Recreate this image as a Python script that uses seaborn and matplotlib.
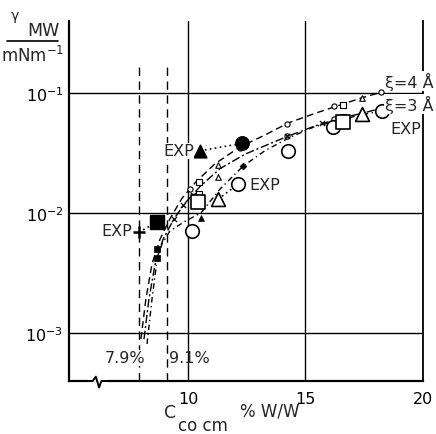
import matplotlib
matplotlib.use("Agg")
import matplotlib.pyplot as plt
import matplotlib.transforms as mtransforms
import seaborn as sns
import pandas as pd

# ---- curves (C %W/W, gamma mN/m) ----
xi4_x = [8.0, 8.21, 8.47, 8.81, 9.23, 9.74, 10.34, 11.15, 12.21, 13.28, 14.26, 15.40, 16.47, 17.40, 18.26]
xi4_y = [0.00089, 0.00191, 0.00376, 0.00603, 0.00891, 0.0132, 0.0182, 0.0257, 0.0355, 0.0447, 0.0562, 0.0676, 0.0794, 0.0912, 0.102]

xi3_x = [8.13, 8.34, 8.60, 8.94, 9.40, 9.91, 10.51, 11.36, 12.43, 13.40, 14.26, 15.40, 16.47, 17.40, 18.17]
xi3_y = [0.00089, 0.00191, 0.00372, 0.00603, 0.00891, 0.0123, 0.0166, 0.0234, 0.0309, 0.0372, 0.0437, 0.0531, 0.0617, 0.0676, 0.0741]

exp_x = [8.26, 8.47, 8.68, 8.89, 9.23, 9.87, 10.55, 11.36, 12.34, 13.28, 14.34, 15.40, 16.47, 17.40, 18.26]
exp_y = [0.00081, 0.00191, 0.00398, 0.00550, 0.00708, 0.00851, 0.0100, 0.0158, 0.0245, 0.0331, 0.0427, 0.0525, 0.0596, 0.0661, 0.0708]

# ---- small theory markers ----
sm_circ_x = [10.1, 12.2, 14.2, 16.2, 18.2, 14.2, 16.2, 18.2]
sm_circ_y = [0.0158, 0.0347, 0.055, 0.0776, 0.102, 0.0437, 0.0603, 0.0741]
sm_x_x = [9.4, 9.8, 10.2, 14.2, 15.7]
sm_x_y = [0.0089, 0.0117, 0.0141, 0.0437, 0.056]
sm_sq_x = [10.45, 16.6, 10.45, 16.6]
sm_sq_y = [0.0182, 0.0794, 0.0145, 0.063]
sm_tri_x = [11.3, 17.4, 11.3, 17.4]
sm_tri_y = [0.0251, 0.0912, 0.02, 0.0708]
sm_fsq_x = [8.7, 8.68]
sm_fsq_y = [0.0050, 0.0042]
sm_ftri_x = [10.55]
sm_ftri_y = [0.0091]
sm_fcirc_x = [12.34]
sm_fcirc_y = [0.0245]

# ---- experimental markers ----
ocirc_x = [10.17, 14.26, 16.17, 18.26]
ocirc_y = [0.0071, 0.033, 0.052, 0.071]
ocirc2_x = [11.28, 12.13]          # triangle ... O EXP pair
ocirc2_y = [0.013, 0.0174]
osq_x = [10.43, 16.6]
osq_y = [0.0124, 0.057]
otri_x = [11.28, 17.4]
otri_y = [0.013, 0.067]
fill_pair_x = [7.91, 8.68]         # EXP + ... filled square
fill_pair_y = [0.0069, 0.0084]
ftri_pair_x = [10.51, 12.3]        # EXP filled triangle ... filled circle
ftri_pair_y = [0.033, 0.038]

cmc_x = [7.9, 9.1]
cmc_labels = ["7.9%", "9.1%"]

sns.set_style("white")
plt.rcParams["font.family"] = ["DejaVu Sans"]
plt.rcParams["mathtext.fontset"] = "dejavusans"

fig = plt.figure(figsize=(4.36, 4.35), dpi=100)
ax = fig.add_axes([69 / 436, 53 / 435, 354 / 436, 360 / 435])
ax.set_yscale("log")

# curves
sns.lineplot(x=xi4_x, y=xi4_y, ax=ax, color="black", lw=1.0, sort=False, estimator=None, dashes=False, linestyle=(0, (5, 3)))
sns.lineplot(x=xi3_x, y=xi3_y, ax=ax, color="black", lw=1.0, sort=False, estimator=None, linestyle=(0, (6, 2, 1.5, 2)))
sns.lineplot(x=exp_x, y=exp_y, ax=ax, color="black", lw=1.0, sort=False, estimator=None, linestyle=(0, (4, 2.5, 1, 2.5)))

# dotted connectors
for xs, ys in [(fill_pair_x, fill_pair_y), (ftri_pair_x, ftri_pair_y), (ocirc2_x, ocirc2_y)]:
    sns.lineplot(x=xs, y=ys, ax=ax, color="black", lw=1.2, sort=False, estimator=None, linestyle=(0, (1, 2)))

# cmc dashed verticals
ax.vlines(cmc_x, 10 ** -3.4, 0.165, colors="black", lw=1.0, linestyles=(0, (6, 4)), zorder=2)

# small markers
kw_o = dict(ax=ax, color="white", edgecolor="black", linewidth=0.8, zorder=4)
sns.scatterplot(x=sm_circ_x, y=sm_circ_y, marker="o", s=14, **kw_o)
sns.scatterplot(x=sm_sq_x, y=sm_sq_y, marker="s", s=14, **kw_o)
sns.scatterplot(x=sm_tri_x, y=sm_tri_y, marker="^", s=16, **kw_o)
sns.scatterplot(x=sm_x_x, y=sm_x_y, marker="x", s=14, color="black", linewidth=0.9, ax=ax, zorder=4)
kw_f = dict(ax=ax, color="black", edgecolor="black", linewidth=0.5, zorder=4)
sns.scatterplot(x=sm_fsq_x, y=sm_fsq_y, marker="s", s=14, **kw_f)
sns.scatterplot(x=sm_ftri_x, y=sm_ftri_y, marker="^", s=18, **kw_f)
sns.scatterplot(x=sm_fcirc_x, y=sm_fcirc_y, marker="D", s=12, **kw_f)

# experimental markers
kw_big = dict(ax=ax, color="white", edgecolor="black", linewidth=1.2, zorder=5)
sns.scatterplot(x=ocirc_x, y=ocirc_y, marker="o", s=95, **kw_big)
sns.scatterplot(x=ocirc2_x[1:], y=ocirc2_y[1:], marker="o", s=95, **kw_big)
sns.scatterplot(x=osq_x, y=osq_y, marker="s", s=100, **kw_big)
sns.scatterplot(x=otri_x, y=otri_y, marker="^", s=100, **kw_big)
kw_fb = dict(ax=ax, color="black", edgecolor="black", linewidth=1.0, zorder=5)
sns.scatterplot(x=fill_pair_x[1:], y=fill_pair_y[1:], marker="s", s=95, **kw_fb)
sns.scatterplot(x=ftri_pair_x[:1], y=ftri_pair_y[:1], marker="^", s=85, **kw_fb)
sns.scatterplot(x=ftri_pair_x[1:], y=ftri_pair_y[1:], marker="o", s=95, **kw_fb)
sns.scatterplot(x=fill_pair_x[:1], y=fill_pair_y[:1], marker="+", s=80, color="black", linewidth=1.8, ax=ax, zorder=5)

# axes
ax.set_xlim(4.94, 20.0)
ax.set_ylim(10 ** -3.4, 10 ** -0.4)
ax.set_xticks([10, 15, 20])
ax.set_xticklabels(["10", "15", "20"])
ax.set_yticks([1e-3, 1e-2, 1e-1])
ax.set_yticklabels(["$10^{-3}$", "$10^{-2}$", "$10^{-1}$"])
ax.yaxis.set_minor_locator(matplotlib.ticker.NullLocator())
ax.tick_params(axis="both", length=0, labelsize=11.5, colors="black")
ax.tick_params(axis="x", pad=7)
ax.tick_params(axis="y", pad=4)
ax.grid(True, color="black", lw=1.0)
ax.set_xlabel("")
ax.set_ylabel("")
for side in ["left", "bottom", "right"]:
    ax.spines[side].set_color("black")
    ax.spines[side].set_linewidth(1.6)
ax.spines["right"].set_linewidth(1.3)
ax.spines["top"].set_visible(False)

# axis break on x axis
tr = mtransforms.blended_transform_factory(ax.transData, ax.transAxes)
ax.plot([5.83, 6.5], [0, 0], color="white", lw=3, transform=tr, clip_on=False, zorder=6)
brk_x = [5.75, 5.95, 6.08, 6.22, 6.32, 6.5, 6.6]
brk_y = [0.0, 0.0, 0.012, -0.018, 0.0, 0.0, 0.0]
ax.plot(brk_x, brk_y, color="black", lw=1.4, transform=tr, clip_on=False, zorder=7)

# labels inside
fs = 11.5
wb = dict(facecolor="white", edgecolor="none", pad=0.5)
ax.text(18.38, 0.126, "ξ=4 Å", fontsize=fs, va="center", ha="left", bbox=wb, zorder=8, clip_on=False)
ax.text(18.38, 0.081, "ξ=3 Å", fontsize=fs, va="center", ha="left", bbox=wb, zorder=8, clip_on=False)
ax.text(18.6, 0.051, "EXP", fontsize=fs, va="center", ha="left", bbox=wb, zorder=8, clip_on=False)
ax.text(10.25, 0.033, "EXP", fontsize=fs, va="center", ha="right", bbox=wb, zorder=6)
ax.text(7.62, 0.0071, "EXP", fontsize=fs, va="center", ha="right", bbox=wb, zorder=6)
ax.text(12.6, 0.0174, "EXP", fontsize=fs, va="center", ha="left", bbox=wb, zorder=6)
ax.text(7.32, 0.00062, cmc_labels[0], fontsize=fs, va="center", ha="center", bbox=wb, zorder=6)
ax.text(9.2, 0.00062, cmc_labels[1], fontsize=fs, va="center", ha="left", zorder=6)

# y label as fraction
fig.text(15 / 436, 1 - 16 / 435, "γ", fontsize=10, ha="center", va="center")
fig.text(43 / 436, 1 - 31 / 435, "MW", fontsize=12.5, ha="center", va="center")
fig.add_artist(plt.Line2D([7 / 436, 58 / 436], [1 - 42 / 435, 1 - 42 / 435], color="black", lw=1.2))
fig.text(33 / 436, 1 - 56 / 435, "mNm$^{-1}$", fontsize=12, ha="center", va="center")

# x label
fig.text(170 / 436, 1 - 413 / 435, "C", fontsize=12.5, ha="center", va="center")
fig.text(203 / 436, 1 - 426 / 435, "co cm", fontsize=12, ha="center", va="center")
fig.text(270 / 436, 1 - 412 / 435, "% W/W", fontsize=12, ha="center", va="center")

fig.savefig("out.png", dpi=100)
